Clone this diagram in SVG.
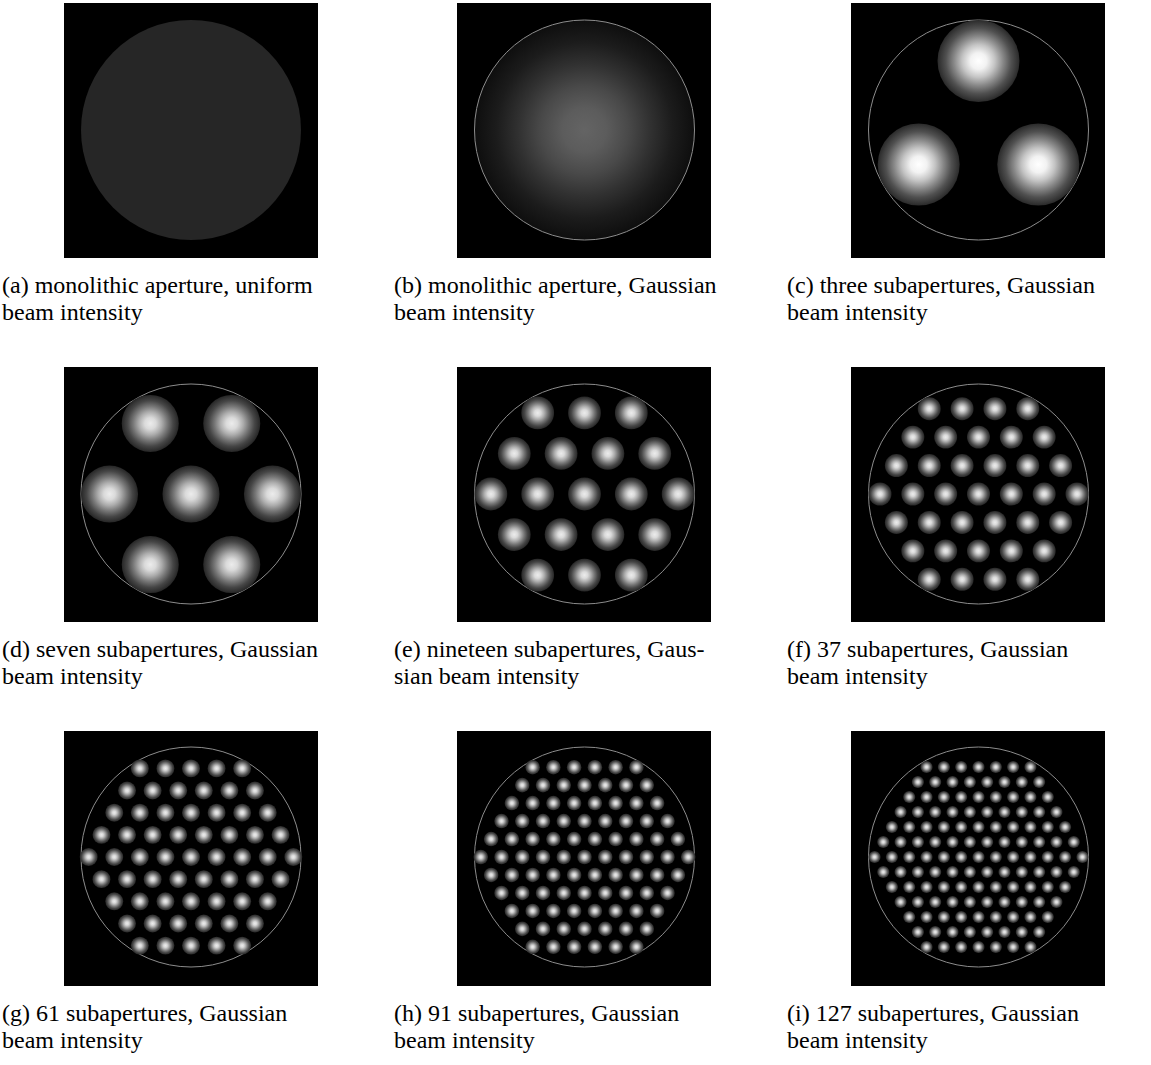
<svg xmlns="http://www.w3.org/2000/svg" xmlns:xlink="http://www.w3.org/1999/xlink" width="1151" height="1065" viewBox="0 0 1151 1065">
<style>
.bg{fill:#000}
.ap{fill:none;stroke:#8c8c8c;stroke-width:1}
.cap{font-family:"Liberation Serif","Times New Roman",serif;font-size:24px;fill:#000}
</style>
<defs>
<radialGradient id="gs">
<stop offset="0" stop-color="#ececec"/><stop offset="0.2" stop-color="#dadada"/><stop offset="0.4" stop-color="#adadad"/><stop offset="0.6" stop-color="#777777"/><stop offset="0.8" stop-color="#464646"/><stop offset="1" stop-color="#262626"/>
</radialGradient>
<radialGradient id="gc">
<stop offset="0" stop-color="#ffffff"/><stop offset="0.2" stop-color="#f2f2f2"/><stop offset="0.4" stop-color="#c4c4c4"/><stop offset="0.6" stop-color="#888888"/><stop offset="0.8" stop-color="#505050"/><stop offset="1" stop-color="#2a2a2a"/>
</radialGradient>
<radialGradient id="gb">
<stop offset="0" stop-color="#646464"/><stop offset="0.2" stop-color="#5c5c5c"/><stop offset="0.4" stop-color="#494949"/><stop offset="0.6" stop-color="#313131"/><stop offset="0.8" stop-color="#1c1c1c"/><stop offset="1" stop-color="#0e0e0e"/>
</radialGradient>
<circle id="sp" r="0.35" fill="url(#gs)"/>
<g id="r2"><use href="#sp"/><use href="#sp" x="1"/></g>
<g id="r4"><use href="#r2"/><use href="#r2" x="2"/></g>
<g id="r8"><use href="#r4"/><use href="#r4" x="4"/></g>
<g id="r16"><use href="#r8" x="-8"/><use href="#r8"/></g>
<g id="p2"><use href="#r16"/><use href="#r16" x="0.5" y="0.8660254"/></g>
<g id="p4"><use href="#p2"/><use href="#p2" y="1.7320508"/></g>
<g id="p8"><use href="#p4"/><use href="#p4" y="3.4641016"/></g>
<g id="lat"><use href="#p8" y="-6.9282032"/><use href="#p8"/></g>
<clipPath id="h1"><polygon points="1.5,0 0.75,1.299 -0.75,1.299 -1.5,0 -0.75,-1.299 0.75,-1.299"/></clipPath>
<clipPath id="h2"><polygon points="2.5,0 1.25,2.165 -1.25,2.165 -2.5,0 -1.25,-2.165 1.25,-2.165"/></clipPath>
<clipPath id="h3"><polygon points="3.5,0 1.75,3.031 -1.75,3.031 -3.5,0 -1.75,-3.031 1.75,-3.031"/></clipPath>
<clipPath id="h4"><polygon points="4.5,0 2.25,3.897 -2.25,3.897 -4.5,0 -2.25,-3.897 2.25,-3.897"/></clipPath>
<clipPath id="h5"><polygon points="5.5,0 2.75,4.763 -2.75,4.763 -5.5,0 -2.75,-4.763 2.75,-4.763"/></clipPath>
<clipPath id="h6"><polygon points="6.5,0 3.25,5.629 -3.25,5.629 -6.5,0 -3.25,-5.629 3.25,-5.629"/></clipPath>
</defs>
<rect width="1151" height="1065" fill="#fff"/>

<g id="panel-a">
<rect class="bg" x="64" y="3" width="254" height="255"/>
<circle cx="191" cy="130" r="110" fill="#262626"/>
<text class="cap" x="2" y="293">(a) monolithic aperture, uniform</text>
<text class="cap" x="2" y="320">beam intensity</text>
</g>

<g id="panel-b">
<rect class="bg" x="457" y="3" width="254" height="255"/>
<circle cx="584.5" cy="130" r="110" fill="url(#gb)"/>
<circle class="ap" cx="584.5" cy="130" r="110" stroke="#5a5a5a"/>
<text class="cap" x="394" y="293">(b) monolithic aperture, Gaussian</text>
<text class="cap" x="394" y="320">beam intensity</text>
</g>

<g id="panel-c">
<rect class="bg" x="851" y="3" width="254" height="255"/>
<circle class="ap" cx="978.5" cy="130" r="110"/>
<circle cx="978.5" cy="61" r="41" fill="url(#gc)"/>
<circle cx="918.7" cy="164.5" r="41" fill="url(#gc)"/>
<circle cx="1038.3" cy="164.5" r="41" fill="url(#gc)"/>
<text class="cap" x="787" y="293">(c) three subapertures, Gaussian</text>
<text class="cap" x="787" y="320">beam intensity</text>
</g>

<g id="panel-d">
<rect class="bg" x="64" y="367" width="254" height="255"/>
<circle class="ap" cx="191" cy="494" r="110"/>
<g transform="translate(191 494) scale(81.48)"><use href="#lat" clip-path="url(#h1)"/></g>
<text class="cap" x="2" y="657">(d) seven subapertures, Gaussian</text>
<text class="cap" x="2" y="684">beam intensity</text>
</g>

<g id="panel-e">
<rect class="bg" x="457" y="367" width="254" height="255"/>
<circle class="ap" cx="584.5" cy="494" r="110"/>
<g transform="translate(584.5 494) scale(46.81)"><use href="#lat" clip-path="url(#h2)"/></g>
<text class="cap" x="394" y="657">(e) nineteen subapertures, Gaus-</text>
<text class="cap" x="394" y="684">sian beam intensity</text>
</g>

<g id="panel-f">
<rect class="bg" x="851" y="367" width="254" height="255"/>
<circle class="ap" cx="978.5" cy="494" r="110"/>
<g transform="translate(978.5 494) scale(32.84)"><use href="#lat" clip-path="url(#h3)"/></g>
<text class="cap" x="787" y="657">(f) 37 subapertures, Gaussian</text>
<text class="cap" x="787" y="684">beam intensity</text>
</g>

<g id="panel-g">
<rect class="bg" x="64" y="731" width="254" height="255"/>
<circle class="ap" cx="191" cy="857" r="110"/>
<g transform="translate(191 857) scale(25.58)"><use href="#lat" clip-path="url(#h4)"/></g>
<text class="cap" x="2" y="1021">(g) 61 subapertures, Gaussian</text>
<text class="cap" x="2" y="1048">beam intensity</text>
</g>

<g id="panel-h">
<rect class="bg" x="457" y="731" width="254" height="255"/>
<circle class="ap" cx="584.5" cy="857" r="110"/>
<g transform="translate(584.5 857) scale(20.75)"><use href="#lat" clip-path="url(#h5)"/></g>
<text class="cap" x="394" y="1021">(h) 91 subapertures, Gaussian</text>
<text class="cap" x="394" y="1048">beam intensity</text>
</g>

<g id="panel-i">
<rect class="bg" x="851" y="731" width="254" height="255"/>
<circle class="ap" cx="978.5" cy="857" r="110"/>
<g transform="translate(978.5 857) scale(17.32)"><use href="#lat" clip-path="url(#h6)"/></g>
<text class="cap" x="787" y="1021">(i) 127 subapertures, Gaussian</text>
<text class="cap" x="787" y="1048">beam intensity</text>
</g>
</svg>
